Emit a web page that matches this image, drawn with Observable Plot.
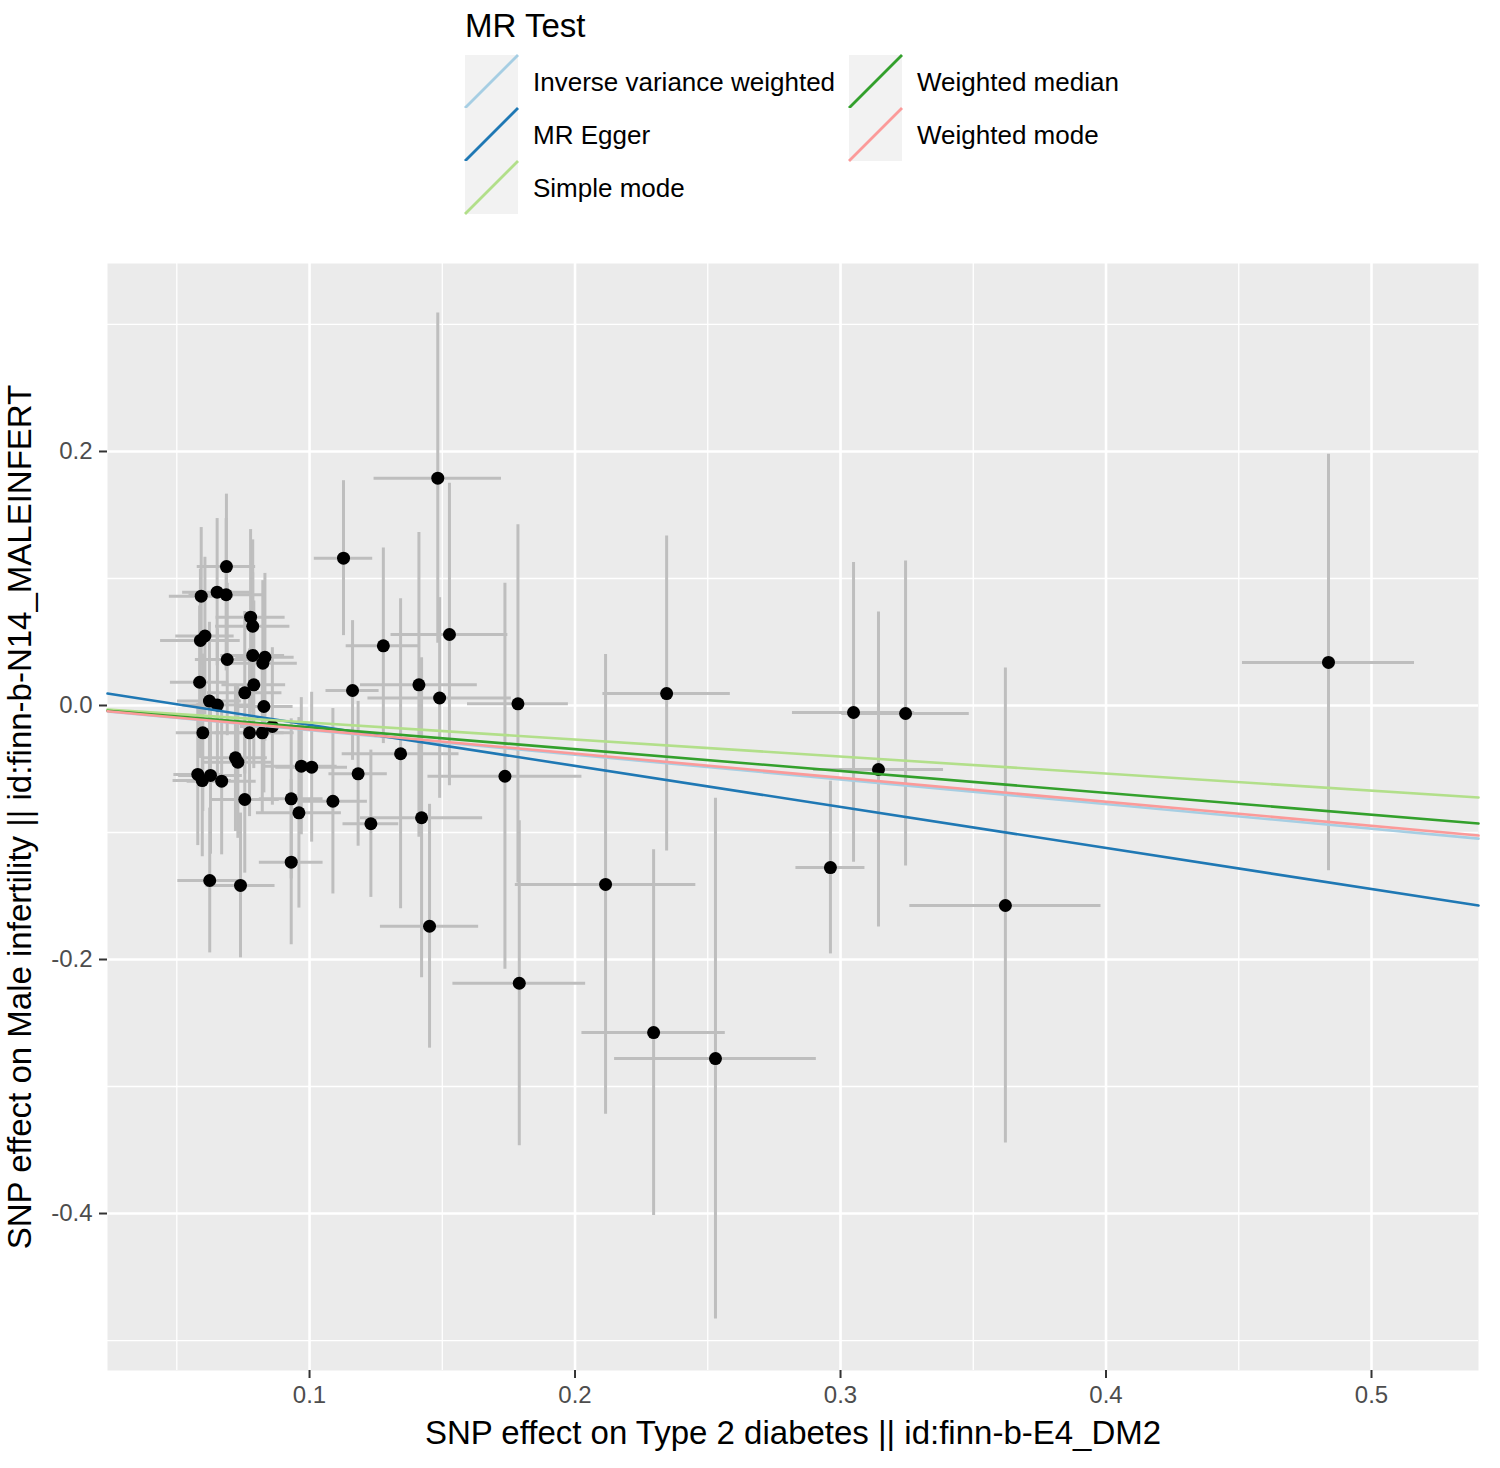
<!DOCTYPE html>
<html>
<head>
<meta charset="utf-8">
<script src="https://cdn.jsdelivr.net/npm/d3@7"></script>
<script src="https://cdn.jsdelivr.net/npm/@observablehq/plot@0.6"></script>
<style>
  body { margin: 0; background: white; font-family: "Liberation Sans", Arial, sans-serif; }
  #legend, #legend svg { display: block; }
  #chart svg { display: block; }
</style>
</head>
<body>
<div id="legend"></div>
<div id="chart"></div>
<script>
// SNP effects on exposure (Type 2 diabetes) and outcome (Male infertility)
const snpX = [0.0592,0.0687,0.0652,0.0686,0.0606,0.0589,0.0690,0.0778,0.0786,0.0786,
              0.0832,0.0824,0.0586,0.0790,0.0756,0.0623,0.0653,0.0828,0.0860,0.0598,
              0.0774,0.0822,0.0721,0.0730,0.0579,0.0596,0.0627,0.0669,0.0756,0.0624,
              0.0740,0.0931,0.0960,0.0931,0.0969,0.1008,0.1088,0.1128,0.1162,0.1183,
              0.1231,0.1278,0.1343,0.1412,0.1422,0.1452,0.1483,0.1490,0.1527,0.1736,
              0.1785,0.1790,0.2115,0.2345,0.2296,0.2529,0.2962,0.3049,0.3143,0.3245,
              0.3621,0.4838];
const snpY = [0.0861,0.1094,0.0892,0.0872,0.0547,0.0512,0.0362,0.0695,0.0624,0.0394,
              0.0380,0.0333,0.0183,0.0163,0.0100,0.0035,0.0004,-0.0008,-0.0165,-0.0215,
              -0.0215,-0.0215,-0.0412,-0.0446,-0.0543,-0.0591,-0.0551,-0.0596,-0.0740,-0.1378,
              -0.1417,-0.0735,-0.0845,-0.1234,-0.0478,-0.0486,-0.0754,0.1160,0.0118,-0.0538,
              -0.0931,0.0470,-0.0380,0.0163,-0.0884,-0.1738,0.1790,0.0059,0.0559,-0.0557,
              0.0013,-0.2187,-0.1409,0.0094,-0.2575,-0.2780,-0.1276,-0.0055,-0.0504,-0.0063,
              -0.1575,0.0339];
const seX = [0.0120,0.0110,0.0130,0.0140,0.0110,0.0150,0.0120,0.0130,0.0140,0.0120,
             0.0110,0.0130,0.0110,0.0120,0.0140,0.0120,0.0130,0.0110,0.0120,0.0100,
             0.0130,0.0120,0.0120,0.0130,0.0090,0.0110,0.0120,0.0130,0.0130,0.0120,
             0.0130,0.0120,0.0160,0.0120,0.0135,0.0135,0.0130,0.0110,0.0100,0.0110,
             0.0105,0.0140,0.0220,0.0220,0.0230,0.0185,0.0240,0.0270,0.0220,0.0290,
             0.0190,0.0250,0.0340,0.0240,0.0270,0.0380,0.0130,0.0230,0.0245,0.0240,
             0.0360,0.0324];
const seY = [0.0540,0.0570,0.0580,0.0600,0.0620,0.0560,0.0600,0.0690,0.0680,0.0650,
             0.0660,0.0650,0.0600,0.0660,0.0640,0.0620,0.0600,0.0680,0.0620,0.0620,
             0.0660,0.0640,0.0580,0.0600,0.0560,0.0600,0.0620,0.0580,0.0580,0.0570,
             0.0570,0.0630,0.0750,0.0650,0.0540,0.0590,0.0730,0.0610,0.0550,0.0570,
             0.0580,0.0770,0.1220,0.1200,0.1260,0.0960,0.1300,0.0790,0.1190,0.1520,
             0.1410,0.1280,0.1810,0.1240,0.1440,0.2050,0.0680,0.1180,0.1240,0.1200,
             0.1870,0.1640];

// MR method estimates
const methods = ["Inverse variance weighted","MR Egger","Simple mode","Weighted median","Weighted mode"];
const slopes = [-0.194, -0.3232, -0.134, -0.172, -0.1895];
const intercepts = [0, 0.0171, 0, 0, 0];
const colors = ["#A6CEE3","#1F78B4","#B2DF8A","#33A02C","#FB9A99"];

// axis ticks
const xDomain = [0.0239, 0.5403];
const yDomain = [-0.5236, 0.348];
const xMajor = [0.1, 0.2, 0.3, 0.4, 0.5];
const xMinor = [0.05, 0.15, 0.25, 0.35, 0.45];
const yMajor = [-0.4, -0.2, 0.0, 0.2];
const yMinor = [-0.5, -0.3, -0.1, 0.1, 0.3];

const xTitle = "SNP effect on Type 2 diabetes || id:finn-b-E4_DM2";
const yTitle = "SNP effect on Male infertility || id:finn-b-N14_MALEINFERT";
const legendTitle = "MR Test";

// ---------- Legend ----------
const lg = d3.select("#legend").append("svg")
  .attr("width", 1500).attr("height", 240)
  .style("font-family", "'Liberation Sans', Arial, sans-serif");
lg.append("text").attr("x", 465).attr("y", 37).attr("font-size", 33).attr("fill", "#000").text(legendTitle);
const keySize = 53;
methods.forEach((m, i) => {
  const col = i < 3 ? 0 : 1;
  const row = i < 3 ? i : i - 3;
  const kx = col === 0 ? 465 : 849;
  const ky = 55 + row * keySize;
  const g = lg.append("g");
  g.append("rect").attr("x", kx).attr("y", ky).attr("width", keySize).attr("height", keySize).attr("fill", "#F2F2F2");
  g.append("line").attr("x1", kx).attr("y1", ky + keySize).attr("x2", kx + keySize).attr("y2", ky)
    .attr("stroke", colors[i]).attr("stroke-width", 2.8);
  g.append("text").attr("x", kx + 68).attr("y", ky + keySize / 2 + 9.5)
    .attr("font-size", 26).attr("fill", "#000").text(m);
});

// ---------- Plot ----------
const idx = d3.range(snpX.length);
const lineData = methods.flatMap((m, i) => xDomain.map(x => ({method: m, x, y: intercepts[i] + slopes[i] * x})));
const fmt = d => d.toFixed(1).replace("\u2212", "-");

const chart = Plot.plot({
  width: 1500,
  height: 1228,
  marginTop: 23,
  marginBottom: 98,
  marginLeft: 107,
  marginRight: 22,
  style: {fontFamily: "'Liberation Sans', Arial, sans-serif", background: "white"},
  x: {domain: xDomain},
  y: {domain: yDomain},
  color: {domain: methods, range: colors},
  marks: [
    Plot.frame({fill: "#EBEBEB", stroke: null}),
    Plot.ruleX(xMinor, {stroke: "white", strokeWidth: 1.3}),
    Plot.ruleY(yMinor, {stroke: "white", strokeWidth: 1.3}),
    Plot.ruleX(xMajor, {stroke: "white", strokeWidth: 2.6}),
    Plot.ruleY(yMajor, {stroke: "white", strokeWidth: 2.6}),
    Plot.ruleX(idx, {x: i => snpX[i], y1: i => snpY[i] - seY[i], y2: i => snpY[i] + seY[i], stroke: "#BEBEBE", strokeWidth: 3}),
    Plot.ruleY(idx, {y: i => snpY[i], x1: i => snpX[i] - seX[i], x2: i => snpX[i] + seX[i], stroke: "#BEBEBE", strokeWidth: 3}),
    Plot.dot(idx, {x: i => snpX[i], y: i => snpY[i], r: 6.5, fill: "black", stroke: null}),
    Plot.line(lineData, {x: "x", y: "y", z: "method", stroke: "method", strokeWidth: 2.6}),
    Plot.axisX(xMajor, {tickFormat: fmt, tickSize: 8, tickPadding: 7, fontSize: 24, color: "#4D4D4D", stroke: "#333333", strokeWidth: 2, label: null}),
    Plot.axisY(yMajor, {tickFormat: fmt, tickSize: 8, tickPadding: 7, fontSize: 24, color: "#4D4D4D", stroke: "#333333", strokeWidth: 2, label: null}),
    Plot.text([xTitle], {frameAnchor: "bottom", textAnchor: "middle", lineAnchor: "middle", dy: 63, fontSize: 33, fill: "black"}),
    Plot.text([yTitle], {frameAnchor: "left", textAnchor: "middle", lineAnchor: "middle", dx: -87, rotate: -90, fontSize: 33, fill: "black"})
  ]
});
document.getElementById("chart").appendChild(chart);
</script>
</body>
</html>
